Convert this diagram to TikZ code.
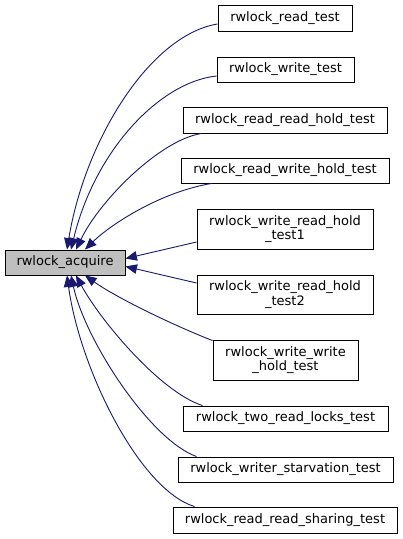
\documentclass[tikz,border=0pt]{standalone}
\usepackage{fontspec}
\setmainfont{DejaVu Sans}
\usetikzlibrary{arrows.meta}
\definecolor{edgeblue}{HTML}{191970}
\definecolor{hlgray}{HTML}{BFBFBF}
\begin{document}
\begin{tikzpicture}[x=1pt,y=-1pt,
  fn/.style={draw=black,line width=0.9pt,fill=white,inner sep=0pt,align=center,
    font=\fontsize{13}{14.5}\selectfont},
  edge/.style={draw=edgeblue,line width=0.9pt,-{Triangle[length=11.5pt,width=9.5pt]},fill=none}]
\useasboundingbox (0,0) rectangle (403,539);
\node[fn,minimum width=134pt,minimum height=26pt] (rt) at (285,18) {rwlock\_read\_test};
\node[fn,minimum width=137pt,minimum height=25pt] (wt) at (285.5,69.5) {rwlock\_write\_test};
\node[fn,minimum width=204pt,minimum height=26pt] (rrh) at (285,120) {rwlock\_read\_read\_hold\_test};
\node[fn,minimum width=208pt,minimum height=25pt] (rwh) at (285,170.5) {rwlock\_read\_write\_hold\_test};
\node[fn,minimum width=176pt,minimum height=40pt] (wrh1) at (285,229) {rwlock\_write\_read\_hold\\\_test1};
\node[fn,fill=hlgray,minimum width=120pt,minimum height=25pt] (acq) at (65,262.5) {rwlock\_acquire};
\node[fn,minimum width=176pt,minimum height=39pt] (wrh2) at (285,294.5) {rwlock\_write\_read\_hold\\\_test2};
\node[fn,minimum width=145pt,minimum height=40pt] (wwh) at (285.5,360) {rwlock\_write\_write\\\_hold\_test};
\node[fn,minimum width=205pt,minimum height=25pt] (trl) at (285.5,418.5) {rwlock\_two\_read\_locks\_test};
\node[fn,minimum width=215pt,minimum height=25pt] (ws) at (285.5,469.5) {rwlock\_writer\_starvation\_test};
\node[fn,minimum width=224pt,minimum height=26pt] (rrs) at (285,520) {rwlock\_read\_read\_sharing\_test};

\draw[edge] ([yshift=-6pt]rt.west) .. controls (150,35) and (85,140) .. ([xshift=2pt]acq.north);
\draw[edge] ([yshift=-6.5pt]wt.west) .. controls (160,82) and (95,150) .. ([xshift=6pt]acq.north);
\draw[edge] ([xshift=19pt]rrh.south west) .. controls (160,140) and (100,200) .. ([xshift=11pt]acq.north);
\draw[edge] ([xshift=31pt]rwh.south west) .. controls (160,192) and (110,225) .. ([xshift=20pt]acq.north);
\draw[edge] ([yshift=-13pt]wrh1.west) -- ([yshift=-9pt]acq.north east);
\draw[edge] ([yshift=11.5pt]wrh2.west) -- ([yshift=9pt]acq.south east);
\draw[edge] ([yshift=-1pt]wwh.north west) .. controls (180,328) and (120,300) .. ([xshift=20pt]acq.south);
\draw[edge] ([xshift=20pt]trl.north west) .. controls (160,392) and (100,320) .. ([xshift=11pt]acq.south);
\draw[edge] ([xshift=19pt]ws.north west) .. controls (150,440) and (85,340) .. ([xshift=6pt]acq.south);
\draw[edge] ([xshift=22pt]rrs.north west) .. controls (140,490) and (80,370) .. ([xshift=2pt]acq.south);
\end{tikzpicture}
\end{document}
